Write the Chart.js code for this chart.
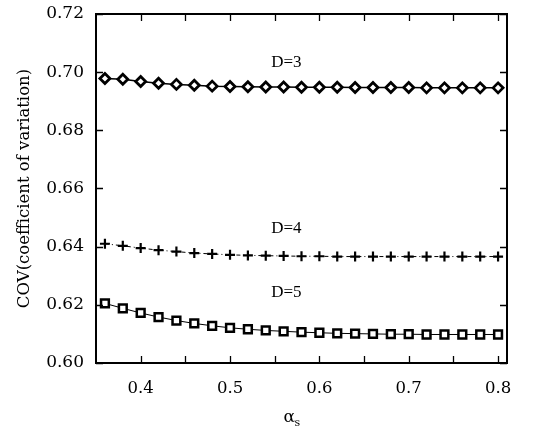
<!DOCTYPE html>
<html>
<head>
<meta charset="utf-8">
<script src="https://cdn.jsdelivr.net/npm/chart.js@4.4.1/dist/chart.umd.min.js"></script>
<style>
  html, body { margin: 0; padding: 0; background: #fff; }
</style>
</head>
<body>
<canvas id="myChart1" width="536" height="429"></canvas>
<script>
var alphaS = [0.36, 0.38, 0.40, 0.42, 0.44, 0.46, 0.48, 0.50, 0.52, 0.54, 0.56, 0.58,
  0.60, 0.62, 0.64, 0.66, 0.68, 0.70, 0.72, 0.74, 0.76, 0.78, 0.80];
var covD3 = [0.6978, 0.6976, 0.6968, 0.6962, 0.6958, 0.6955, 0.6952, 0.6951, 0.6950, 0.6949, 0.6949, 0.6948,
  0.6948, 0.6948, 0.6947, 0.6947, 0.6947, 0.6947, 0.6946, 0.6946, 0.6946, 0.6946, 0.6946];
var covD4 = [0.6410, 0.6403, 0.6395, 0.6388, 0.6383, 0.6378, 0.6375, 0.6372, 0.6370, 0.6369, 0.6368, 0.6367,
  0.6367, 0.6366, 0.6366, 0.6366, 0.6366, 0.6366, 0.6366, 0.6366, 0.6366, 0.6366, 0.6366];
var covD5 = [0.6205, 0.6188, 0.6172, 0.6158, 0.6146, 0.6136, 0.6128, 0.6121, 0.6116, 0.6112, 0.6109, 0.6106,
  0.6104, 0.6102, 0.6101, 0.6100, 0.6099, 0.6099, 0.6098, 0.6098, 0.6098, 0.6098, 0.6098];
var seriesNames = ["D=3", "D=4", "D=5"];
var xTickLabels = [0.4, 0.5, 0.6, 0.7, 0.8];
var xTickMarks = [0.4, 0.45, 0.5, 0.55, 0.6, 0.65, 0.7, 0.75, 0.8];
var yTickLabels = [0.60, 0.62, 0.64, 0.66, 0.68, 0.70, 0.72];

function pts(ys) {
  return alphaS.map(function (x, i) { return { x: x, y: ys[i] }; });
}

// frame, inward ticks, curve labels and the alpha_s axis title
var frameTicks = {
  id: "frameTicks",
  afterDraw: function (chart) {
    var c = chart.ctx, a = chart.chartArea;
    var xs = chart.scales.x, ys = chart.scales.y;
    c.save();
    c.strokeStyle = "#000";
    c.lineWidth = 1.3;
    c.beginPath();
    xTickMarks.forEach(function (v) {
      var px = Math.round(xs.getPixelForValue(v)) + 0.5;
      c.moveTo(px, a.bottom); c.lineTo(px, a.bottom - 7);
      c.moveTo(px, a.top); c.lineTo(px, a.top + 7);
    });
    yTickLabels.forEach(function (v) {
      var py = Math.round(ys.getPixelForValue(v)) + 0.5;
      c.moveTo(a.left, py); c.lineTo(a.left + 7, py);
      c.moveTo(a.right, py); c.lineTo(a.right - 7, py);
    });
    c.stroke();
    c.lineWidth = 2;
    c.strokeRect(a.left, a.top, a.right - a.left, a.bottom - a.top);

    c.fillStyle = "#000";
    c.font = "17px 'Liberation Serif'";
    c.textAlign = "center";
    c.textBaseline = "middle";
    var lx = xs.getPixelForValue(0.563);
    c.fillText(seriesNames[0], lx, ys.getPixelForValue(0.7032));
    c.fillText(seriesNames[1], lx, ys.getPixelForValue(0.6462));
    c.fillText(seriesNames[2], lx, ys.getPixelForValue(0.6242));

    // x title: alpha with subscript s
    var tx = (a.left + a.right) / 2 - 12;
    c.font = "17px 'DejaVu Serif'";
    c.textAlign = "left";
    c.fillText("\u03b1", tx - 6, 418);
    c.font = "11px 'DejaVu Serif'";
    c.fillText("s", tx + 5, 423);
    c.restore();
  }
};

var ctx1 = document.getElementById("myChart1").getContext("2d");
var myChart1 = new Chart(ctx1, {
  type: "line",
  data: {
    datasets: [
      {
        label: seriesNames[0],
        data: pts(covD3),
        borderColor: "#000",
        borderWidth: 1.5,
        pointStyle: "rectRot",
        pointRadius: 5,
        pointBorderWidth: 2.8,
        pointBackgroundColor: "#fff",
        pointBorderColor: "#000",
      },
      {
        label: seriesNames[1],
        data: pts(covD4),
        borderColor: "#000",
        borderWidth: 1,
        borderDash: [4, 3, 1, 3],
        pointStyle: "cross",
        pointRadius: 5,
        pointBorderWidth: 2.2,
        pointBorderColor: "#000",
      },
      {
        label: seriesNames[2],
        data: pts(covD5),
        borderColor: "#000",
        borderWidth: 1,
        pointStyle: "rect",
        pointRadius: 5.5,
        pointBorderWidth: 2.5,
        pointBackgroundColor: "#fff",
        pointBorderColor: "#000",
      },
    ],
  },
  options: {
    responsive: false,
    animation: false,
    devicePixelRatio: 1,
    layout: { padding: { left: 0, right: 29, top: 14, bottom: 0 } },
    plugins: { legend: { display: false }, tooltip: { enabled: false } },
    scales: {
      x: {
        type: "linear",
        min: 0.35,
        max: 0.81,
        grid: { display: false, drawTicks: false },
        border: { display: false },
        afterBuildTicks: function (s) {
          s.ticks = xTickLabels.map(function (v) { return { value: v }; });
        },
        afterFit: function (s) {
          s.height = 66;
          s.paddingLeft = 0; s.paddingRight = 0;
        },
        ticks: {
          padding: 16,
          color: "#000",
          font: { family: "DejaVu Serif", size: 16.5 },
          callback: function (v) { return v.toFixed(1); },
        },
      },
      y: {
        min: 0.60,
        max: 0.72,
        grid: { display: false, drawTicks: false },
        border: { display: false },
        afterBuildTicks: function (s) {
          s.ticks = yTickLabels.map(function (v) { return { value: v }; });
        },
        afterFit: function (s) {
          s.width = 96;
          s.paddingTop = 0; s.paddingBottom = 0;
        },
        ticks: {
          padding: 12,
          color: "#000",
          font: { family: "DejaVu Serif", size: 17 },
          callback: function (v) { return v.toFixed(2); },
        },
        title: {
          display: true,
          text: "COV(coefficient of variation)",
          color: "#000",
          padding: { top: 15, bottom: 0 },
          font: { family: "DejaVu Serif", size: 16.5 },
        },
      },
    },
  },
  plugins: [frameTicks],
});
</script>
</body>
</html>
